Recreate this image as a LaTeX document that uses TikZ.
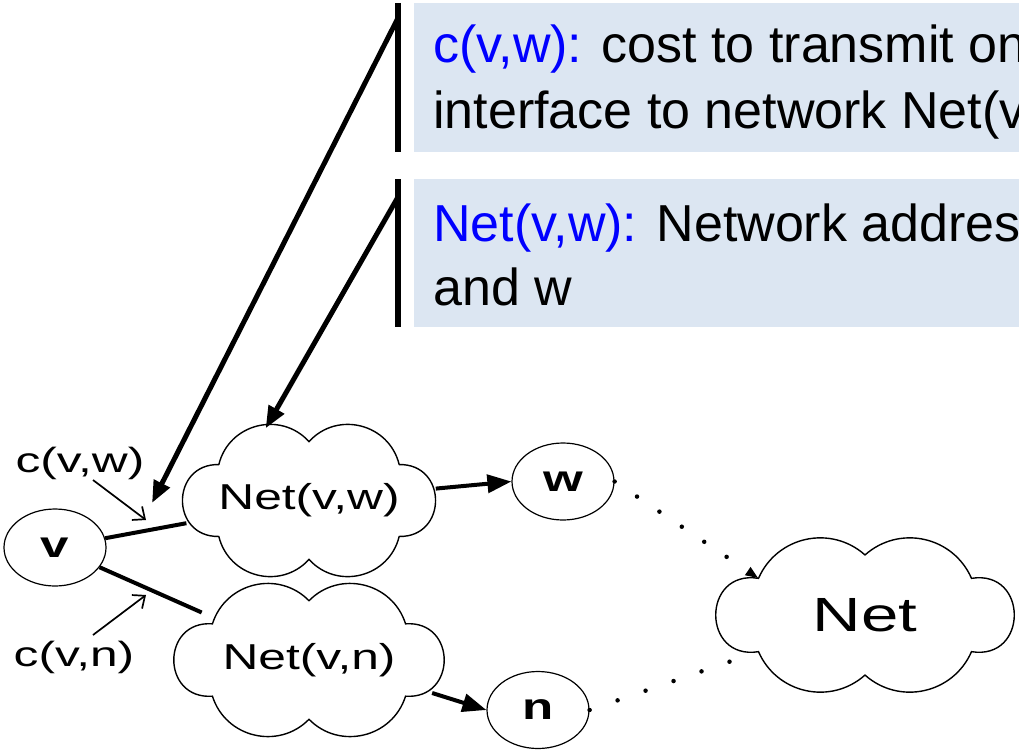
\documentclass[tikz,border=0pt]{standalone}
\usepackage{fontspec}
\setmainfont{Liberation Sans}
\usepackage{tikz}
\usetikzlibrary{calc,arrows.meta,shapes.geometric}
\definecolor{notefill}{RGB}{220,230,242}
\definecolor{noteblue}{RGB}{0,0,255}
% labels in the drawing are set wide
\newcommand{\widetext}[2][1.38]{\scalebox{#1}[1]{#2}}
% cloud outline round a node: #2,#3 half axes, #4/#5 top and bottom puffs, #6/#7 side puffs
\newcommand{\cloudpath}[7]{%
  \draw[line width=1.4pt] ($(#1)+(0,-0.77*#3)$)
    to[bend right=#4,looseness=#5] ($(#1)+(-0.71*#2,-0.47*#3)$)
    to[bend right=#6,looseness=#7] ($(#1)+(-0.71*#2,0.47*#3)$)
    to[bend right=#4,looseness=#5] ($(#1)+(0,0.77*#3)$)
    to[bend right=#4,looseness=#5] ($(#1)+(0.71*#2,0.47*#3)$)
    to[bend right=#6,looseness=#7] ($(#1)+(0.71*#2,-0.47*#3)$)
    to[bend right=#4,looseness=#5] cycle;}

\begin{document}
\begin{tikzpicture}[x=1pt,y=-1pt,
  router/.style={ellipse,draw,line width=1.2pt,minimum width=102pt,minimum height=77pt,
    inner sep=0pt,font=\fontsize{37}{40}\selectfont\bfseries},
  netarea/.style={ellipse,inner sep=0pt,font=\fontsize{36}{40}\selectfont},
  notetext/.style={anchor=base west,inner sep=0pt,font=\fontsize{52}{63}\selectfont},
  pointer/.style={line width=5pt,-{Triangle[length=22pt,width=17pt]}},
  link/.style={line width=4pt},
  costarrow/.style={line width=1.7pt,-{Straight Barb[length=10pt,width=17pt]}},
  dotlink/.style={line width=4.5pt,line cap=round}]
\useasboundingbox (0,0) rectangle (1019,752);
\clip (0,0) rectangle (1019,752);

% the two notes
\fill[notefill] (414,3) rectangle (1030,152);
\fill[notefill] (414,179) rectangle (1030,327);
\draw[line width=6pt] (398,3) -- (398,152);
\draw[line width=6pt] (398,179) -- (398,327);
\node[notetext] (t1) at (433,63) {\textcolor{noteblue}{c(v,w):} cost to transmit on};
\node[notetext] (t2) at (433,128) {interface to network Net(v,w)};
\node[notetext] (t3) at (433,241) {\textcolor{noteblue}{Net(v,w):} Network address of the network between v};
\node[notetext] (t4) at (433,305) {and w};
\coordinate (bar1) at (398,18);
\coordinate (bar2) at (398,197);

% routers and networks
\node[router] (v) at (55,547.5) {\widetext{v}};
\node[router] (w) at (563,481.5) {\widetext{w}};
\node[router] (n) at (538,710) {\widetext{n}};
\node[netarea,minimum width=254pt,minimum height=153pt] (nvw) at (309,500.5) {\widetext{Net(v,w)}};
\node[netarea,minimum width=272pt,minimum height=154pt] (nvn) at (309,660) {\widetext{Net(v,n)}};
\node[netarea,minimum width=300pt,minimum height=156pt,font=\fontsize{48}{50}\selectfont] (net) at (865,615) {\widetext[1.4]{Net}};
\cloudpath{nvw}{127}{76.5}{62}{1.16}{91}{1.73}
\cloudpath{nvn}{136}{77}{59}{1.12}{94}{1.83}
\cloudpath{net}{150}{78}{54}{1.08}{99}{2.02}

\node[inner sep=0pt,font=\fontsize{35}{38}\selectfont] (cvw) at (80,463.5) {\widetext[1.42]{c(v,w)}};
\node[inner sep=0pt,font=\fontsize{35}{38}\selectfont] (cvn) at (74,657.5) {\widetext[1.42]{c(v,n)}};
\coordinate (cvwtip) at (152,503);
\coordinate (cvwend) at (146,520);
\coordinate (cvnend) at (146,595);

\draw[link] (v) -- (nvw);
\draw[link] (v) -- (nvn);
\draw[link,-{Triangle[length=24pt,width=18pt]}] (nvw) -- (w.west);
\draw[link,-{Triangle[length=24pt,width=18pt]}] (nvn.-15) -- (n.west);
\draw[pointer] (bar1) -- (cvwtip);
\draw[pointer] (bar2) -- (nvw.121);
\draw[costarrow] ([xshift=13pt]cvw.south) -- (cvwend);
\draw[costarrow] ([xshift=19pt,yshift=6pt]cvn.north) -- (cvnend);
% dotted links run into the notches of the big cloud
\draw[dotlink,dash pattern=on 0pt off 27pt,-{Triangle[length=13pt,width=9pt]}] (w.east) -- ($(net)+(-106.5,-36.7)$);
\draw[dotlink,dash pattern=on 0pt off 29.6pt,shorten >=28pt] (n.east) -- ($(net)+(-106.5,36.7)$);
\end{tikzpicture}
\end{document}
